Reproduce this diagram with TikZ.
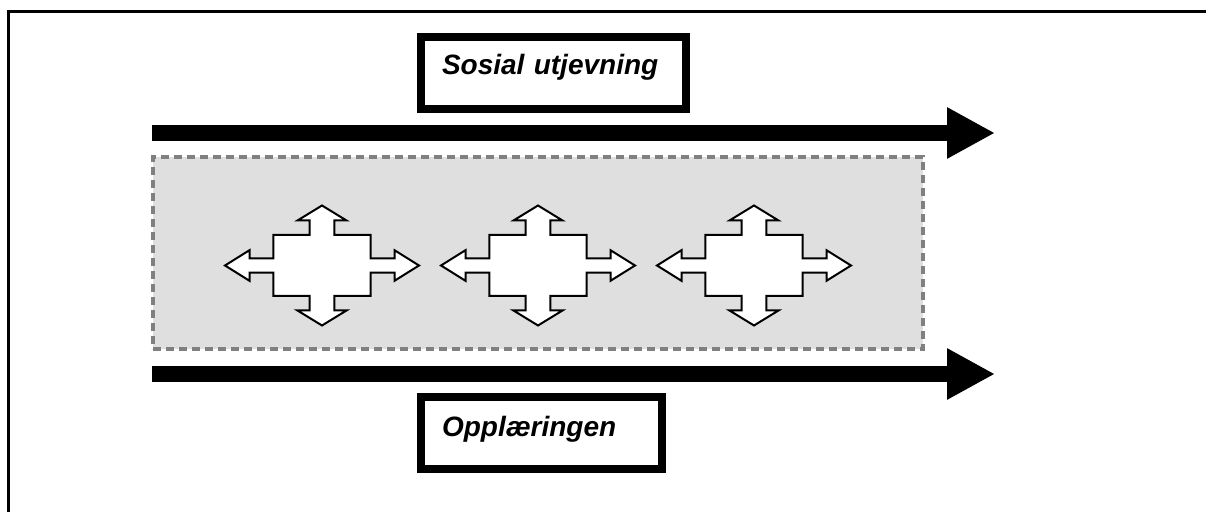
\documentclass[tikz,border=0pt]{standalone}
\usepackage{fontspec}
\setmainfont{Liberation Sans}
\usetikzlibrary{arrows.meta,positioning}

\begin{document}
\begin{tikzpicture}[
    x=0.5pt, y=-0.5pt,
    frame/.style={draw, line width=1.5pt},
    label/.style={rectangle, draw, line width=4pt, fill=white, anchor=west, inner xsep=10.5pt, align=left, text height=10pt, font=\fontsize{14}{16}\selectfont\bfseries\itshape},
    zone/.style={rectangle, draw=black!50, fill=gray!25, line width=1.6pt, dash pattern=on 4pt off 2.5pt, minimum width=385pt, minimum height=96pt},
    bigarrow/.style={draw, line width=8pt, -{Triangle[length=24pt, width=24pt]}},
    crossarrow/.pic={
        \draw[line width=1pt, fill=white, line join=miter]
            (0,-60) -- (24.5,-45) -- (12.3,-45) -- (12.3,-30.5) -- (48.7,-30.5) -- (48.7,-7.2)
            -- (72.5,-7.2) -- (72.5,-15.3) -- (97,0) -- (72.5,15.3) -- (72.5,7.2) -- (48.7,7.2)
            -- (48.7,30.5) -- (12.3,30.5) -- (12.3,45) -- (24.5,45) -- (0,60) -- (-24.5,45)
            -- (-12.3,45) -- (-12.3,30.5) -- (-48.7,30.5) -- (-48.7,7.2) -- (-72.5,7.2) -- (-72.5,15.3)
            -- (-97,0) -- (-72.5,-15.3) -- (-72.5,-7.2) -- (-48.7,-7.2) -- (-48.7,-30.5) -- (-12.3,-30.5)
            -- (-12.3,-45) -- (-24.5,-45) -- cycle;
    }
]
    \useasboundingbox (0,0) rectangle (1206,512);

    % Frame
    \draw [frame] (1206,12) -- (8,12) -- (8,512);

    % Nodes
    \node [label, text depth=8pt, minimum width=132.5pt, minimum height=36pt, text width=111.5pt] (sosial) at (417,73) {\mbox{Sosial utjevning}};
    \node [label, text depth=6pt, minimum width=120.5pt, minimum height=36pt, text width=99.5pt] (opplaering) at (417,433) {\mbox{Opplæringen}};
    \node [zone] (samspill) at (538,253) {};

    % Cross arrows
    \foreach \cx in {322,538,754}
        \pic at (\cx,265.5) {crossarrow};

    % Arrows
    \coordinate (topstart) at (152,133);
    \coordinate (topend) at (995,133);
    \coordinate (botstart) at (152,374);
    \coordinate (botend) at (995,374);
    \draw [bigarrow] (topstart) -- (topend);
    \draw [bigarrow] (botstart) -- (botend);

\end{tikzpicture}
\end{document}
